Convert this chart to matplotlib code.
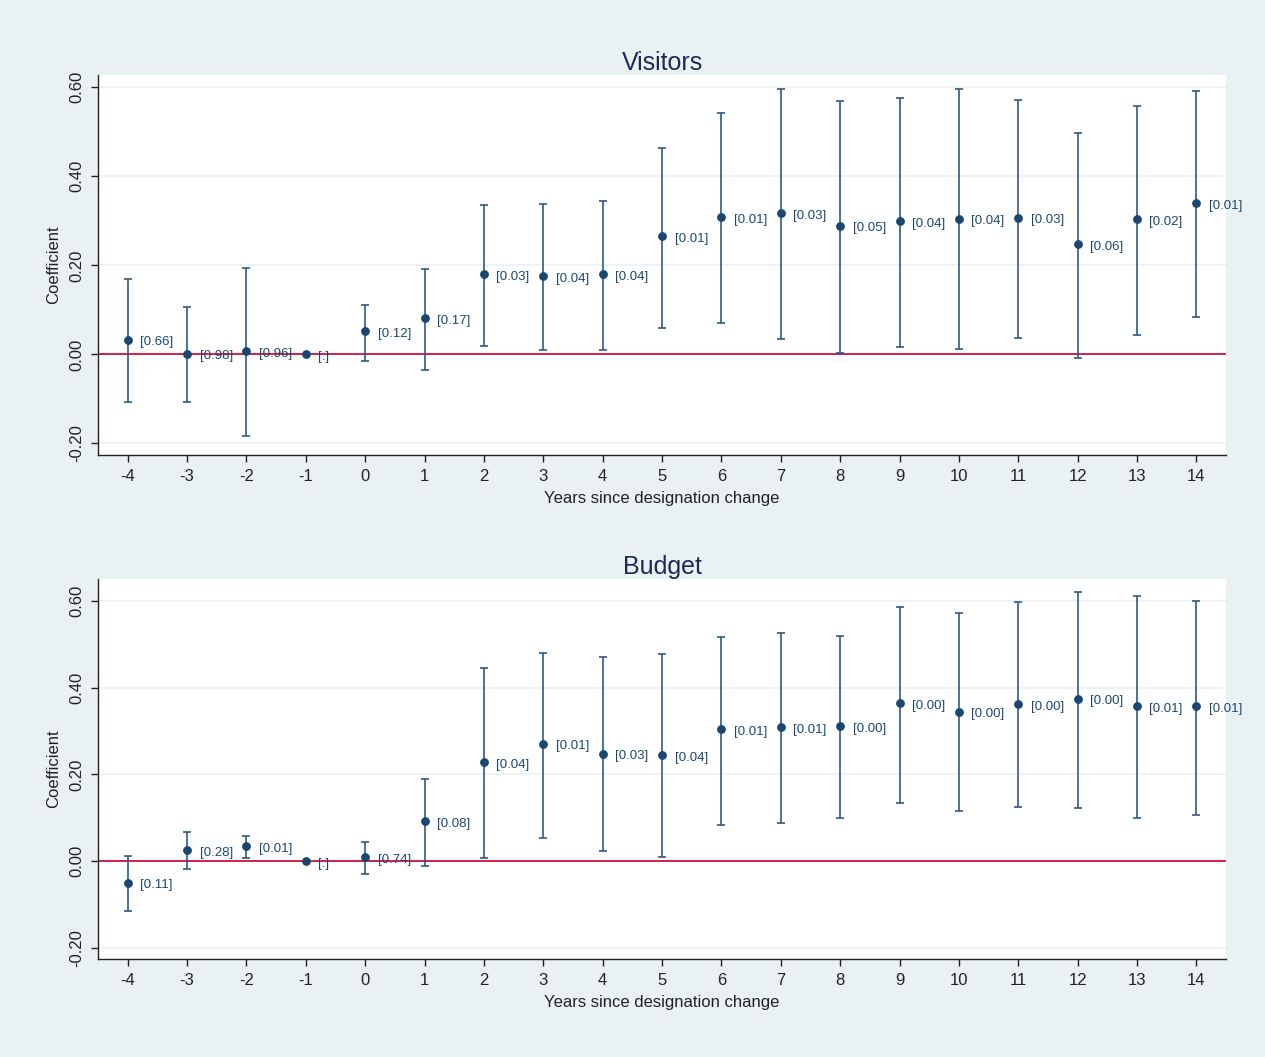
import matplotlib.pyplot as plt
import numpy as np

plt.rcParams['font.family'] = ['Liberation Sans', 'DejaVu Sans']
plt.rcParams['axes.unicode_minus'] = False

years = [-4, -3, -2, -1, 0, 1, 2, 3, 4, 5, 6, 7, 8, 9, 10, 11, 12, 13, 14]

# Visitors
vis_coef = [0.033, 0.002, 0.008, 0.0, 0.052, 0.081, 0.180, 0.176, 0.180, 0.265,
            0.309, 0.318, 0.289, 0.299, 0.305, 0.307, 0.247, 0.303, 0.340]
vis_hi = [0.169, 0.106, 0.194, 0.0, 0.111, 0.191, 0.336, 0.338, 0.345, 0.464,
          0.543, 0.596, 0.570, 0.576, 0.596, 0.572, 0.498, 0.557, 0.592]
vis_lo = [-0.108, -0.107, -0.184, 0.0, -0.014, -0.035, 0.019, 0.009, 0.009, 0.060,
          0.070, 0.034, 0.003, 0.016, 0.011, 0.037, -0.008, 0.043, 0.083]
vis_p = ['[0.66]', '[0.98]', '[0.96]', '[.]', '[0.12]', '[0.17]', '[0.03]', '[0.04]', '[0.04]', '[0.01]',
         '[0.01]', '[0.03]', '[0.05]', '[0.04]', '[0.04]', '[0.03]', '[0.06]', '[0.02]', '[0.01]']

# Budget
bud_coef = [-0.050, 0.026, 0.035, 0.0, 0.009, 0.092, 0.229, 0.271, 0.248, 0.245,
            0.304, 0.310, 0.312, 0.364, 0.345, 0.363, 0.375, 0.358, 0.358]
bud_hi = [0.012, 0.068, 0.057, 0.0, 0.045, 0.189, 0.446, 0.481, 0.471, 0.477,
          0.518, 0.527, 0.520, 0.586, 0.572, 0.598, 0.622, 0.611, 0.601]
bud_lo = [-0.115, -0.019, 0.008, 0.0, -0.031, -0.012, 0.008, 0.054, 0.022, 0.010,
          0.084, 0.088, 0.100, 0.134, 0.115, 0.124, 0.122, 0.100, 0.107]
bud_p = ['[0.11]', '[0.28]', '[0.01]', '[.]', '[0.74]', '[0.08]', '[0.04]', '[0.01]', '[0.03]', '[0.04]',
         '[0.01]', '[0.01]', '[0.00]', '[0.00]', '[0.00]', '[0.00]', '[0.00]', '[0.01]', '[0.01]']

bg = '#EAF1F3'
navy = '#1A476F'
barcol = '#2D5A82'

fig = plt.figure(figsize=(12.65, 10.57), dpi=100, facecolor=bg)
ax1 = fig.add_axes([0.0775, 0.5695, 0.8917, 0.3598])
ax2 = fig.add_axes([0.0775, 0.0924, 0.8917, 0.3598])


def panel(ax, title, coef, lo, hi, labs, ylim):
    coef = np.array(coef)
    lo = np.array(lo)
    hi = np.array(hi)
    ax.set_facecolor('white')
    ax.axhline(0, color='#D0103A', lw=1.3, zorder=2)
    ax.errorbar(years, coef, yerr=[coef - lo, hi - coef], fmt='none', ecolor=barcol,
                elinewidth=1.2, capsize=3, capthick=1.2, zorder=3)
    ax.plot(years, coef, 'o', color=navy, ms=5.3, zorder=4)
    for x, y, t in zip(years, coef, labs):
        ax.annotate(t, (x, y), xytext=(9, -2), textcoords='offset points',
                    va='center', ha='left', fontsize=9.5, color=navy)
    ax.set_xlim(-4.5, 14.5)
    ax.set_ylim(*ylim)
    ax.set_xticks(years)
    ax.set_yticks([-0.2, 0.0, 0.2, 0.4, 0.6])
    ax.set_yticklabels(['%.2f' % v for v in [-0.2, 0.0, 0.2, 0.4, 0.6]],
                       rotation=90, va='center')
    ax.grid(axis='y', color=bg, lw=1.2)
    ax.set_axisbelow(True)
    for s in ['top', 'right']:
        ax.spines[s].set_visible(False)
    for s in ['left', 'bottom']:
        ax.spines[s].set_color('#222222')
        ax.spines[s].set_linewidth(1.0)
    ax.tick_params(axis='both', direction='out', length=5, width=1, color='#222222',
                   labelsize=12, labelcolor='#222222')
    ax.tick_params(axis='x', pad=5)
    ax.tick_params(axis='y', pad=5)
    ax.set_title(title, fontsize=18, color='#1E2A55', pad=3)
    ax.set_xlabel('Years since designation change', fontsize=12, color='#222222', labelpad=5)
    ax.set_ylabel('Coefficient', fontsize=12, color='#222222', labelpad=6)


panel(ax1, 'Visitors', vis_coef, vis_lo, vis_hi, vis_p, (-0.226, 0.628))
panel(ax2, 'Budget', bud_coef, bud_lo, bud_hi, bud_p, (-0.227, 0.651))

fig.savefig('out.png', dpi=100, facecolor=bg)
